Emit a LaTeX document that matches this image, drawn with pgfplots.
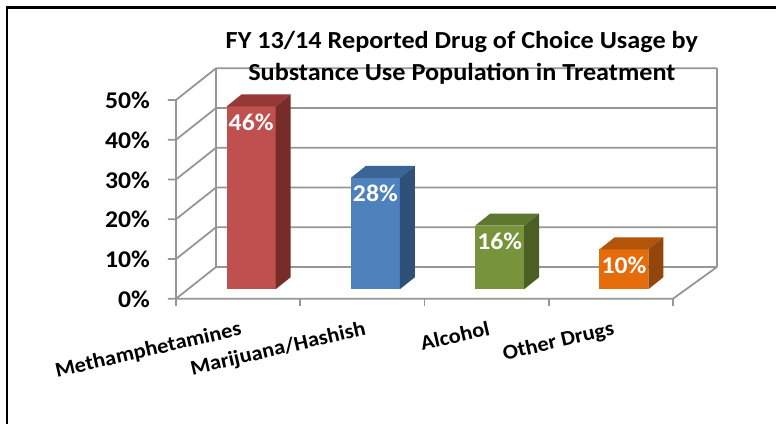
\documentclass[border=0pt]{standalone}
\usepackage{fontspec}
\setmainfont{Carlito}[FakeStretch=1.07]
\usepackage{pgfplots}
\pgfplotsset{compat=1.18}
\definecolor{gridc}{RGB}{150,150,150}
\definecolor{rf}{RGB}{192,80,77}\definecolor{rt}{RGB}{150,56,54}\definecolor{rs}{RGB}{120,44,42}
\definecolor{bf}{RGB}{79,129,189}\definecolor{bt}{RGB}{58,100,150}\definecolor{bs}{RGB}{47,80,121}
\definecolor{gf}{RGB}{119,147,60}\definecolor{gt}{RGB}{94,118,46}\definecolor{gs}{RGB}{75,95,36}
\definecolor{of}{RGB}{228,108,10}\definecolor{ot}{RGB}{178,84,9}\definecolor{os}{RGB}{148,70,10}
% top and side faces of a 3-D bar, drawn at the bar's data point
\pgfdeclareplotmark{barfaces}{%
  \pgfsetfillcolor{\topc}%
  \pgfpathmoveto{\pgfqpoint{-24.5bp}{0bp}}%
  \pgfpathlineto{\pgfqpoint{-9.5bp}{12bp}}%
  \pgfpathlineto{\pgfqpoint{39.5bp}{12bp}}%
  \pgfpathlineto{\pgfqpoint{24.5bp}{0bp}}%
  \pgfpathclose\pgfusepath{fill}%
  \pgfsetfillcolor{\sidec}%
  \pgfpathmoveto{\pgfqpoint{24.5bp}{0bp}}%
  \pgfpathlineto{\pgfqpoint{39.5bp}{12bp}}%
  \pgfpathlineto{\pgfpoint{39.5bp}{12bp-\val*3.974bp}}%
  \pgfpathlineto{\pgfpoint{24.5bp}{-\val*3.974bp}}%
  \pgfpathclose\pgfusepath{fill}%
}
\newcommand{\cubebar}[5]{%
  \addplot[ybar, bar width=49bp, bar shift=0pt, fill=#3, draw=none,
    mark=barfaces,
    visualization depends on={value \thisrow{v} \as \val},
    visualization depends on={value #4 \as \topc},
    visualization depends on={value #5 \as \sidec},
    nodes near coords={\pgfmathprintnumber{\pgfplotspointmeta}\%},
    every node near coord/.append style={font=\fontsize{24bp}{28bp}\selectfont\bfseries,
      text=white, anchor=center, yshift=-15.5bp}]
    table[row sep=\\] {x v\\ #1 #2\\};}
\begin{document}
\begin{tikzpicture}
\useasboundingbox (0,0) rectangle (776bp,424bp);
\fill[white] (0,0) rectangle (776bp,424bp);
\draw[line width=2.5bp] (7bp,-10bp) -- (7bp,416.5bp) -- (790bp,416.5bp);
\begin{axis}[
  at={(189bp,134.8bp)}, anchor=south west,
  scale only axis, width=497bp, height=198.7bp,
  xmin=-0.5, xmax=3.5, ymin=0, ymax=50,
  clip=false,
  axis line style={draw=none}, tick style={draw=none},
  /pgf/number format/assume math mode=true,
  xtick={0,1,2,3},
  xticklabels={Methamphetamines,Marijuana/Hashish,Alcohol,Other Drugs},
  xticklabel style={font=\fontsize{21bp}{24bp}\selectfont\bfseries, inner sep=0pt,
    xshift=-12bp, yshift=-31bp, rotate=13, anchor=north east},
  ytick={0,10,20,30,40,50},
  yticklabel={\pgfmathprintnumber{\tick}\%},
  yticklabel style={font=\fontsize{24bp}{28bp}\selectfont\bfseries, inner sep=0pt,
    anchor=east, xshift=-39bp, yshift=-10bp},
  title={FY 13/14 Reported Drug of Choice Usage by\\Substance Use Population in Treatment},
  title style={at={(axis description cs:0.549,1.135)}, anchor=center, align=center,
    font=\fontsize{24.5bp}{32bp}\selectfont\bfseries},
]
% walls and floor
\pgfplotsinvokeforeach{0,10,20,30,40,50}{
  \draw[gridc, line width=1.8bp]
    ([shift={(-21bp,-9.5bp)}]axis cs:-0.5,#1) -- ([shift={(-13bp,-9.5bp)}]axis cs:-0.5,#1)
    -- ([shift={(27bp,22.2bp)}]axis cs:-0.5,#1) -- ([shift={(31bp,22.2bp)}]axis cs:3.5,#1);
}
\draw[gridc, line width=1.8bp] ([shift={(-13bp,-9.5bp)}]axis cs:-0.5,0) -- ([shift={(-13bp,-9.5bp)}]axis cs:-0.5,50);
\draw[gridc, line width=1.8bp] ([shift={(27bp,22.2bp)}]axis cs:-0.5,0) -- ([shift={(27bp,22.2bp)}]axis cs:-0.5,50);
\draw[gridc, line width=1.8bp] ([shift={(31bp,22.2bp)}]axis cs:3.5,0) -- ([shift={(31bp,22.2bp)}]axis cs:3.5,50);
\draw[gridc, line width=1.8bp] ([shift={(-13bp,-9.5bp)}]axis cs:-0.5,0) -- ([shift={(-13bp,-9.5bp)}]axis cs:3.5,0)
  -- ([shift={(31bp,22.2bp)}]axis cs:3.5,0);
\pgfplotsinvokeforeach{-0.5,0.5,1.5,2.5,3.5}{
  \draw[gridc, line width=1.8bp] ([shift={(-13bp,-9.5bp)}]axis cs:#1,0) -- ([shift={(-13bp,-16.5bp)}]axis cs:#1,0);
}
% bars
\cubebar{0}{46}{rf}{rt}{rs}
\cubebar{1}{28}{bf}{bt}{bs}
\cubebar{2}{16}{gf}{gt}{gs}
\cubebar{3}{10}{of}{ot}{os}
\end{axis}
\end{tikzpicture}
\end{document}
